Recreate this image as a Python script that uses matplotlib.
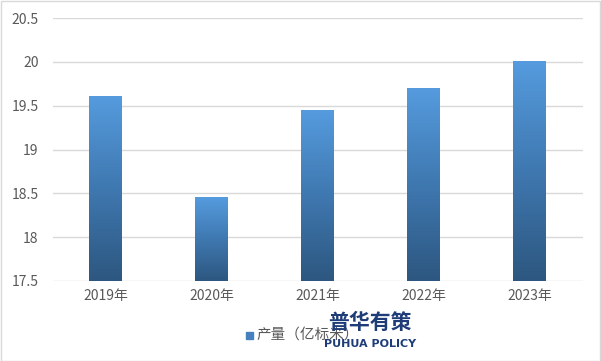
import numpy as np
import matplotlib.pyplot as plt
from matplotlib.colors import LinearSegmentedColormap
from matplotlib.patches import Rectangle

plt.rcParams['font.family'] = ['Noto Sans CJK SC', 'DejaVu Sans']

years = ['2019年', '2020年', '2021年', '2022年', '2023年']
output = [19.6, 18.45, 19.45, 19.7, 20.0]
series_name = '产量（亿标米）'

ymin, ymax = 17.5, 20.5
bar_w = 0.31
cmap = LinearSegmentedColormap.from_list('bar', ['#2D5780', '#3F78B0', '#559BDE'])
grad = np.linspace(0, 1, 256).reshape(-1, 1)

fig = plt.figure(figsize=(6.01, 3.61), dpi=100)
ax = fig.add_axes([52.5 / 601, 1 - 281 / 361, 530 / 601, 263 / 361])

x = np.arange(len(years))
bars = ax.bar(x, output, width=bar_w, bottom=0, color='none', zorder=2)
for b, v in zip(bars, output):
    x0 = b.get_x()
    im = ax.imshow(grad, cmap=cmap, origin='lower', aspect='auto',
                   extent=[x0, x0 + bar_w, ymin, v], zorder=2)
    im.set_clip_path(b)
    im.set_clip_box(ax.bbox)

ax.set_xlim(-0.5, len(years) - 0.5)
ax.set_ylim(ymin, ymax)
ax.set_yticks(np.arange(17.5, 20.51, 0.5))
ax.set_yticklabels(['17.5', '18', '18.5', '19', '19.5', '20', '20.5'])
ax.set_xticks(x)
ax.set_xticklabels(years)
ax.yaxis.grid(True, color='#D9D9D9', linewidth=1)
ax.set_axisbelow(True)
for s in ax.spines.values():
    s.set_visible(False)
ax.tick_params(length=0, labelsize=10, colors='#595959')
ax.tick_params(axis='y', pad=10)
ax.tick_params(axis='x', pad=6)

# legend
lx, ly = 249 / 601, 1 - 335 / 361
fig.patches.append(Rectangle((lx - 3.5 / 601, ly - 3.5 / 361), 7 / 601, 7 / 361,
                             transform=fig.transFigure, color='#4581BE'))
fig.text(lx + 7 / 601, ly, series_name, fontsize=10.5, color='#595959', va='center')

# watermark
fig.text(370 / 601, 1 - 322 / 361, '普华有策', fontsize=15, fontweight='heavy',
         color='#1E3C78', ha='center', va='center')
fig.text(370 / 601, 1 - 344 / 361, 'PUHUA POLICY', fontsize=8, fontweight='bold',
         color='#1E3C78', ha='center', va='center', family='DejaVu Sans Condensed')

# outer border
fig.patches.append(Rectangle((0.5 / 601, 0.5 / 361), 599.5 / 601, 359.5 / 361,
                             transform=fig.transFigure, fill=False,
                             edgecolor='#D9D9D9', linewidth=1))

fig.savefig('out.png', dpi=100)
